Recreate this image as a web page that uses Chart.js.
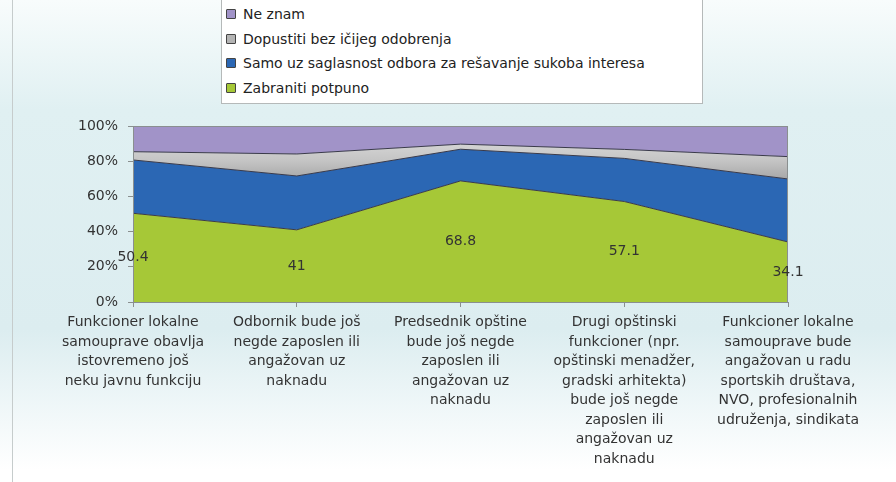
<!DOCTYPE html>
<html>
<head>
<meta charset="utf-8">
<script src="https://cdn.jsdelivr.net/npm/chart.js@4/dist/chart.umd.min.js"></script>
<style>
  html, body { margin: 0; padding: 0; }
  body {
    width: 896px; height: 482px; overflow: hidden; position: relative;
    background: linear-gradient(to bottom, #f8fcfc 0px, #e0f0f2 110px, #dcedf0 330px, #ffffff 470px);
    font-family: "DejaVu Sans", Verdana, sans-serif;
  }
  #okvir { position: absolute; left: 12px; top: 0; width: 1px; height: 482px; background: #c6cccc; }
  #wrap { position: absolute; left: 0; top: 0; width: 896px; height: 482px; }
  #legenda {
    position: absolute; left: 221px; top: -6px; width: 482px; height: 110px;
    background: #fff; border: 1px solid #b5b9b9; box-sizing: border-box;
  }
  .stavka { position: absolute; left: 4px; font-size: 14px; color: #222; line-height: 16px; }
  .kockica {
    position: absolute; left: 0; top: 3px; width: 8px; height: 8px;
    border: 1px solid #444; border-radius: 1px;
  }
  .stavka span { position: absolute; left: 17px; white-space: nowrap; }
</style>
</head>
<body>
<div id="okvir"></div>
<div id="wrap"><canvas id="grafik" width="896" height="482"></canvas></div>
<div id="legenda"></div>
<script>
// kategorije (x osa)
var kategorije = [
  ["Funkcioner lokalne", "samouprave obavlja", "istovremeno još", "neku javnu funkciju"],
  ["Odbornik bude još", "negde zaposlen ili", "angažovan uz", "naknadu"],
  ["Predsednik opštine", "bude još negde", "zaposlen ili", "angažovan uz", "naknadu"],
  ["Drugi opštinski", "funkcioner (npr.", "opštinski menadžer,", "gradski arhitekta)", "bude još negde", "zaposlen ili", "angažovan uz", "naknadu"],
  ["Funkcioner lokalne", "samouprave bude", "angažovan u radu", "sportskih društava,", "NVO, profesionalnih", "udruženja, sindikata"]
];

// vrednosti u procentima (odozdo nagore)
var zabraniti = [50.4, 41, 68.8, 57.1, 34.1];
var samoUz = [30.3, 30.6, 18.0, 24.5, 35.8];
var dopustiti = [4.7, 12.5, 2.9, 5.1, 12.7];
var neZnam = [14.6, 15.9, 10.3, 13.3, 17.4];

var yTicks = [0, 20, 40, 60, 80, 100];

var serije = [
  { label: "Zabraniti potpuno", data: zabraniti, boja: "#a6c837" },
  { label: "Samo uz saglasnost odbora za rešavanje sukoba interesa", data: samoUz, boja: "#2b67b4" },
  { label: "Dopustiti bez ičijeg odobrenja", data: dopustiti, boja: "#b4b4b4" },
  { label: "Ne znam", data: neZnam, boja: "#a193c8" }
];

// legenda (obrnut redosled)
var leg = document.getElementById("legenda");
var redovi = [19, 44, 68, 93];
serije.slice().reverse().forEach(function(s, i) {
  var d = document.createElement("div");
  d.className = "stavka";
  d.style.top = (redovi[i] - 8) + "px";
  d.innerHTML = '<div class="kockica" style="background:' + s.boja + '"></div><span>' + s.label + '</span>';
  leg.appendChild(d);
});

function sivaGradijent(context) {
  var chart = context.chart;
  var ca = chart.chartArea;
  if (!ca) return "#b4b4b4";
  var g = chart.ctx.createLinearGradient(0, ca.top, 0, ca.top + 70);
  g.addColorStop(0, "#e4e4e4");
  g.addColorStop(0.5, "#c4c4c4");
  g.addColorStop(1, "#8c8c8c");
  return g;
}

var oznake = {
  id: "oznake",
  afterDatasetsDraw: function(chart) {
    var ctx = chart.ctx;
    var ca = chart.chartArea;
    // okvir oko grafika
    ctx.save();
    ctx.strokeStyle = "#8a8f8f";
    ctx.lineWidth = 1;
    ctx.strokeRect(ca.left + 0.5, ca.top + 0.5, ca.right - ca.left - 1, ca.bottom - ca.top);
    // vrednosti za zelenu seriju
    var meta = chart.getDatasetMeta(0);
    var y = chart.scales.y;
    ctx.fillStyle = "#333";
    ctx.font = "14px 'DejaVu Sans'";
    ctx.textAlign = "center";
    ctx.textBaseline = "middle";
    meta.data.forEach(function(p, i) {
      ctx.fillText(String(zabraniti[i]), p.x, y.getPixelForValue(zabraniti[i] / 2));
    });
    ctx.restore();
  }
};

new Chart(document.getElementById("grafik"), {
  type: "line",
  data: {
    labels: kategorije,
    datasets: serije.map(function(s, i) {
      return {
        label: s.label,
        data: s.data,
        backgroundColor: i == 2 ? sivaGradijent : s.boja,
        borderColor: "#3a3a4a",
        borderWidth: 1,
        fill: i == 0 ? "origin" : "-1",
        pointRadius: 0,
        tension: 0
      };
    })
  },
  plugins: [oznake],
  options: {
    responsive: false,
    animation: false,
    devicePixelRatio: 1,
    layout: { padding: { left: 0, right: 108, top: 126, bottom: 0 } },
    plugins: {
      legend: { display: false },
      tooltip: { enabled: false }
    },
    scales: {
      x: {
        offset: false,
        grid: { display: true, drawOnChartArea: false, tickLength: 5, color: "#8a8f8f" },
        border: { color: "#8a8f8f" },
        ticks: {
          maxRotation: 0, autoSkip: false, padding: 6,
          color: "#333",
          font: { family: "DejaVu Sans", size: 14, lineHeight: 1.39 }
        },
        afterFit: function(scale) { scale.height = 180; }
      },
      y: {
        stacked: true,
        min: 0, max: 100,
        afterBuildTicks: function(scale) {
          scale.ticks = yTicks.map(function(v) { return { value: v }; });
        },
        grid: { display: true, drawOnChartArea: false, tickLength: 5, color: "#8a8f8f" },
        border: { color: "#8a8f8f" },
        ticks: {
          padding: 10,
          color: "#333",
          font: { family: "DejaVu Sans", size: 14 },
          callback: function(v) { return v + "%"; }
        },
        afterFit: function(scale) { scale.width = 133; }
      }
    }
  }
});
</script>
</body>
</html>
